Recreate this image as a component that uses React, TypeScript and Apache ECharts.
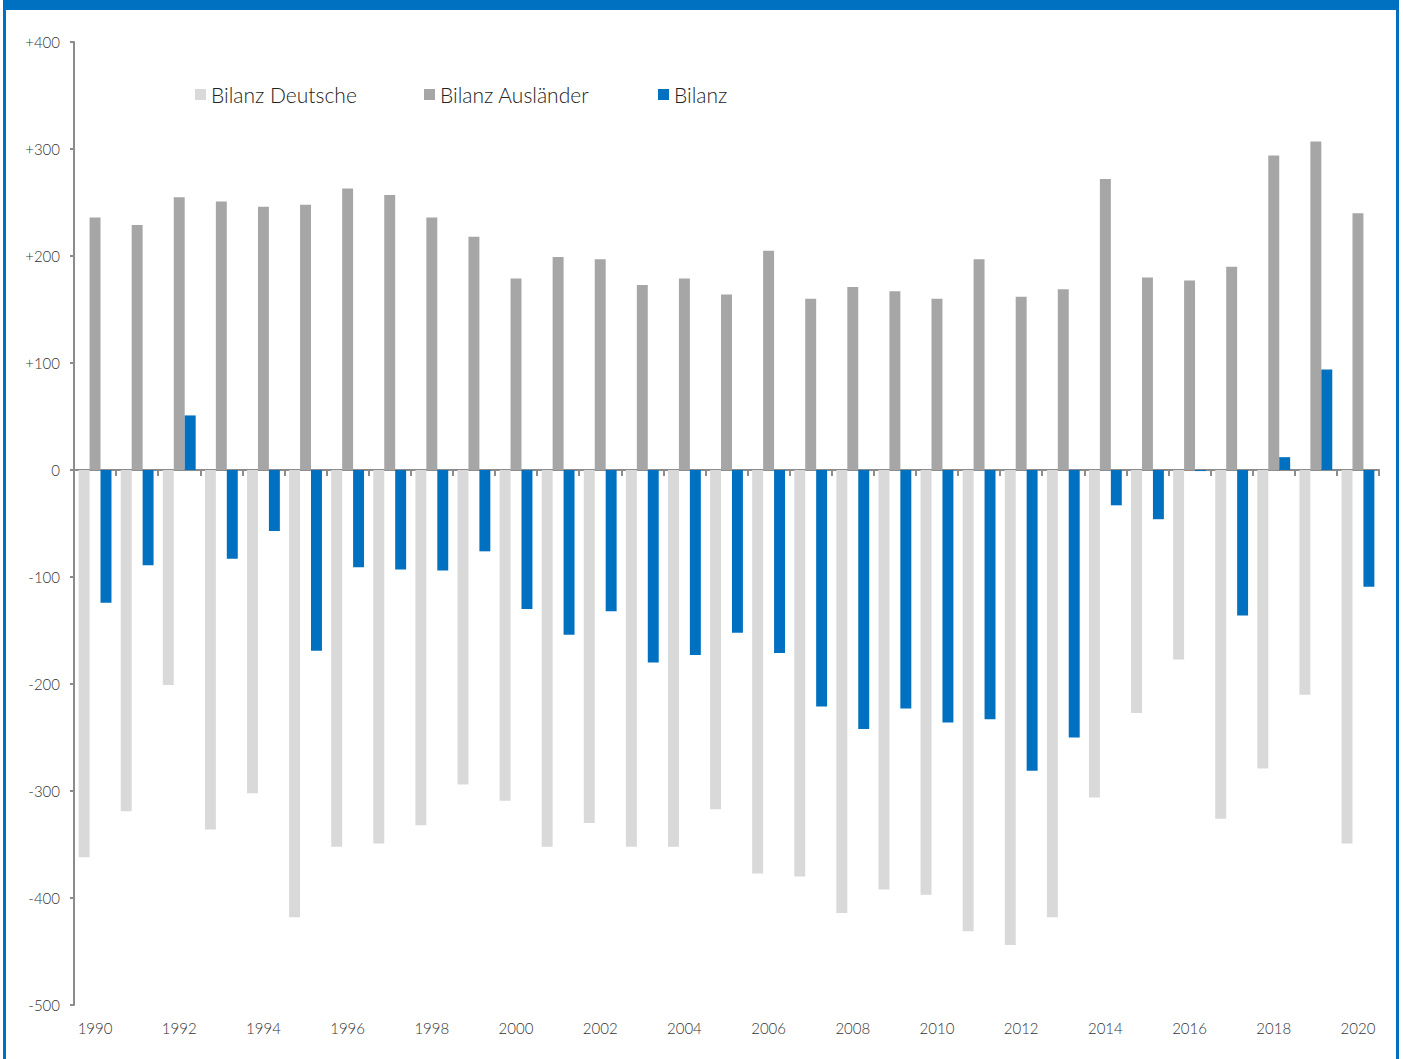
import React, { useEffect, useRef } from "react";
import * as echarts from "echarts";

const years = [
  "1990","1991","1992","1993","1994","1995","1996","1997","1998","1999",
  "2000","2001","2002","2003","2004","2005","2006","2007","2008","2009",
  "2010","2011","2012","2013","2014","2015","2016","2017","2018","2019","2020",
];
const bilanzDeutsche = [
  -362, -319, -201, -336, -302, -418, -352, -349, -332, -294,
  -309, -352, -330, -352, -352, -317, -377, -380, -414, -392,
  -397, -431, -444, -418, -306, -227, -177, -326, -279, -210, -349,
];
const bilanzAuslaender = [
  236, 229, 255, 251, 246, 248, 263, 257, 236, 218,
  179, 199, 197, 173, 179, 164, 205, 160, 171, 167,
  160, 197, 162, 169, 272, 180, 177, 190, 294, 307, 240,
];
const bilanz = [
  -124, -89, 51, -83, -57, -169, -91, -93, -94, -76,
  -130, -154, -132, -180, -173, -152, -171, -221, -242, -223,
  -236, -233, -281, -250, -33, -46, -1, -136, 12, 94, -109,
];
const seriesNames = ["Bilanz Deutsche", "Bilanz Ausländer", "Bilanz"];
const colors = ["#d9d9d9", "#a6a6a6", "#0070c0"];

const FONT = "Lato";

export default function App() {
  const ref = useRef<HTMLDivElement>(null);
  useEffect(() => {
    if (!ref.current) return;
    const chart = echarts.init(ref.current, undefined, { renderer: "svg" });
    const legendLefts = [195, 424, 658];
    chart.setOption({
      animation: false,
      backgroundColor: "#ffffff",
      textStyle: { fontFamily: FONT },
      grid: { left: 74, right: 24, top: 42, bottom: 54, containLabel: false },
      legend: seriesNames.map((n, i) => ({
        data: [n],
        left: legendLefts[i],
        top: 84,
        padding: 0,
        itemWidth: 11,
        itemHeight: 11,
        itemGap: 0,
        icon: "rect",
        textStyle: { fontFamily: FONT, fontSize: 21, fontWeight: 300, color: "#222" },
      })),
      xAxis: [
        {
          type: "category",
          data: years,
          position: "bottom",
          axisLine: { show: false, onZero: false },
          axisTick: { show: false },
          axisLabel: {
            interval: 1,
            margin: 15,
            fontFamily: FONT,
            fontSize: 15,
            fontWeight: 300,
            color: "#333",
          },
        },
        {
          type: "category",
          data: years,
          position: "bottom",
          axisLine: { show: true, onZero: true, lineStyle: { color: "#8c8c8c", width: 2 } },
          axisTick: { show: true, length: 6, lineStyle: { color: "#8c8c8c", width: 2 } },
          axisLabel: { show: false },
        },
      ],
      yAxis: {
        type: "value",
        min: -500,
        max: 400,
        interval: 100,
        splitLine: { show: false },
        axisLine: { show: true, lineStyle: { color: "#8c8c8c", width: 2 } },
        axisTick: { show: true, length: 4, lineStyle: { color: "#8c8c8c", width: 2 } },
        axisLabel: {
          margin: 14,
          fontFamily: FONT,
          fontSize: 15,
          fontWeight: 300,
          color: "#333",
          formatter: (v: number) => (v > 0 ? "+" + v : String(v)),
        },
      },
      series: [bilanzDeutsche, bilanzAuslaender, bilanz].map((d, i) => ({
        name: seriesNames[i],
        type: "bar",
        data: d,
        xAxisIndex: 0,
        barGap: "0%",
        barCategoryGap: "22%",
        itemStyle: { color: colors[i] },
      })),
      graphic: [
        { type: "rect", shape: { x: 0, y: 0, width: 1399, height: 10 }, style: { fill: "#0070c0" } },
        { type: "rect", shape: { x: 3, y: 0, width: 3, height: 1059 }, style: { fill: "#0070c0" } },
        { type: "rect", shape: { x: 1396, y: 0, width: 3, height: 1059 }, style: { fill: "#0070c0" } },
        { type: "rect", shape: { x: 0, y: 0, width: 3, height: 1059 }, style: { fill: "#ffffff" } },
      ],
    });
    return () => chart.dispose();
  }, []);
  return (
    <div
      ref={ref}
      style={{ position: "absolute", left: 0, top: 0, width: 1403, height: 1059 }}
    />
  );
}
